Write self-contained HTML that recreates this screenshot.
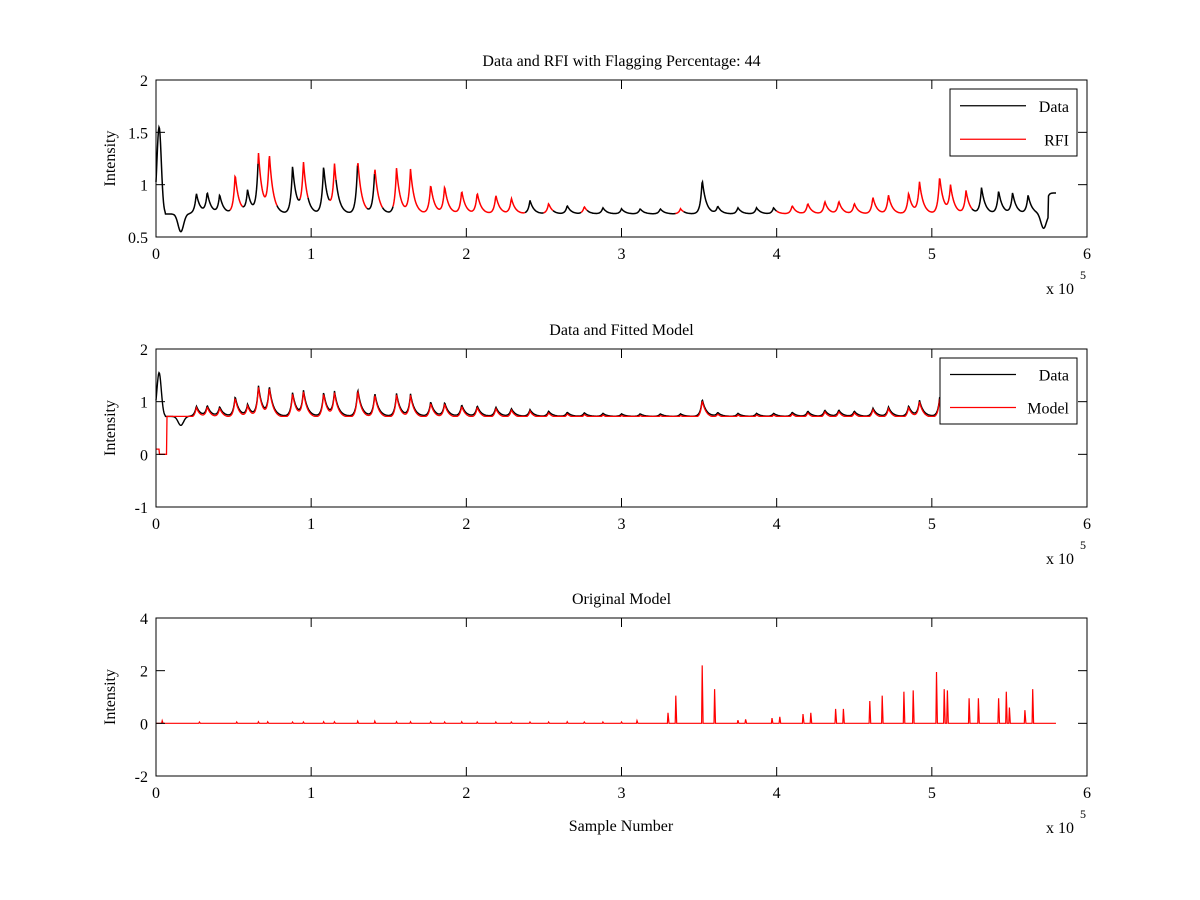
<!DOCTYPE html>
<html><head><meta charset="utf-8"><style>
body{margin:0;background:#fff}
svg{display:block;font-family:"Liberation Serif",serif}
</style></head><body>
<svg id="fig" width="1200" height="900"></svg>
<script>
// ---- data (x in units of 1e5 samples) ----
const peakPos = [0.02,0.26,0.33,0.41,0.51,0.59,0.66,0.73,0.88,0.95,1.08,1.15,1.30,1.41,1.55,1.64,1.77,1.86,1.97,2.07,2.19,2.29,2.41,2.53,2.65,2.76,2.88,3.00,3.12,3.25,3.38,3.52,3.62,3.75,3.87,3.98,4.10,4.20,4.31,4.40,4.50,4.62,4.72,4.85,4.92,5.05,5.12,5.22,5.32,5.43,5.52,5.62];
const peakHt  = [0.82,0.20,0.20,0.18,0.38,0.22,0.58,0.55,0.46,0.48,0.46,0.46,0.52,0.44,0.44,0.42,0.28,0.26,0.22,0.20,0.18,0.15,0.13,0.10,0.08,0.07,0.06,0.05,0.05,0.05,0.05,0.33,0.07,0.06,0.06,0.06,0.08,0.10,0.12,0.12,0.10,0.16,0.18,0.20,0.30,0.36,0.26,0.22,0.25,0.22,0.20,0.18];
const dipPos = [0.16,5.72];
const dipDepth = [0.17,0.14];
const redFlags = [[0.48,0.56],[0.66,0.78],[0.93,0.98],[1.12,1.16],[1.30,1.36],[1.41,1.46],[1.53,2.38],[2.50,2.56],[2.74,2.78],[3.35,3.40],[4.00,5.26]];
const modelPos = [0.04,0.28,0.52,0.66,0.72,0.88,0.95,1.08,1.15,1.30,1.41,1.55,1.64,1.77,1.86,1.97,2.07,2.19,2.29,2.41,2.53,2.65,2.76,2.88,3.00,3.10,3.30,3.35,3.52,3.60,3.75,3.80,3.97,4.02,4.17,4.22,4.38,4.43,4.60,4.68,4.82,4.88,5.03,5.08,5.10,5.24,5.30,5.43,5.48,5.50,5.60,5.65];
const modelHt  = [0.10,0.05,0.05,0.06,0.06,0.05,0.05,0.06,0.06,0.08,0.08,0.06,0.06,0.06,0.05,0.06,0.05,0.05,0.05,0.05,0.05,0.06,0.05,0.05,0.05,0.10,0.40,1.05,2.20,1.30,0.12,0.15,0.20,0.25,0.35,0.40,0.55,0.55,0.85,1.05,1.20,1.25,1.95,1.30,1.25,0.95,0.95,0.95,1.20,0.60,0.50,1.30];

function dataVal(x){
  let v=0.72;
  if(x<0.06) v=0.72+0.83*Math.exp(-Math.pow((x-0.02)/0.02,2));
  for(let i=1;i<peakPos.length;i++){const d=x-peakPos[i];
    if(d>=0) v+=peakHt[i]*Math.exp(-d/0.025); else v+=peakHt[i]*Math.exp(d/0.012);}
  for(let i=0;i<dipPos.length;i++) v-=dipDepth[i]*Math.exp(-Math.pow((x-dipPos[i])/0.025,2));
  if(x>5.75) v+=0.2;
  return v;
}
const isRed=x=>redFlags.some(r=>x>=r[0]&&x<=r[1]);
const NS="http://www.w3.org/2000/svg";
const svg=document.getElementById('fig');
function el(t,a,p){const e=document.createElementNS(NS,t);for(const k in a)e.setAttribute(k,a[k]);(p||svg).appendChild(e);return e;}
function axes(top,bot,ymin,ymax,yticks,title,name){
  const L=156,R=1087;
  const g=el('g',{});
  
  
  el('rect',{x:L,y:top,width:R-L,height:bot-top,fill:'#fff',stroke:'none'},g);
  const sx=x=>L+x/6*(R-L), sy=v=>bot-(v-ymin)/(ymax-ymin)*(bot-top);
  return {g,sx,sy,L,R,top,bot,ymin,ymax,yticks,title};
}
function frame(a){
  const {g,sx,sy,L,R,top,bot}=a;
  el('rect',{x:L,y:top,width:R-L,height:bot-top,fill:'none',stroke:'#000','stroke-width':1},g);
  for(let i=0;i<=6;i++){const x=sx(i);
    el('line',{x1:x,y1:bot,x2:x,y2:bot-9,stroke:'#000'},g);el('line',{x1:x,y1:top,x2:x,y2:top+9,stroke:'#000'},g);
    const t=el('text',{x:x,y:bot+22,'text-anchor':'middle','font-size':16},g);t.textContent=i;
    
    }
  a.yticks.forEach(v=>{const y=sy(v);
    el('line',{x1:L,y1:y,x2:L+9,y2:y,stroke:'#000'},g);el('line',{x1:R,y1:y,x2:R-9,y2:y,stroke:'#000'},g);
    const t=el('text',{x:L-8,y:y+6,'text-anchor':'end','font-size':16},g);t.textContent=v;
    
    });
  let t=el('text',{x:(L+R)/2,y:top-14,'text-anchor':'middle','font-size':16},g);t.textContent=a.title;
  
  
  t=el('text',{x:0,y:0,'text-anchor':'middle','font-size':16,transform:`translate(${L-41},${(top+bot)/2}) rotate(-90)`},g);t.textContent='Intensity';
  
  
  t=el('text',{x:1046,y:bot+57,'font-size':16},g);t.textContent='x 10';
  
  
  t=el('text',{x:1080,y:bot+42,'font-size':12},g);t.textContent='5';
}
function legend(a,x,y,w,h,items){
  const g=el('g',{},a.g);
  
  
  el('rect',{x,y,width:w,height:h,fill:'#fff',stroke:'#000'},g);
  items.forEach((it,i)=>{const yy=y+h/4+i*h/2;
    el('line',{x1:x+10,y1:yy,x2:x+76,y2:yy,stroke:it[1],'stroke-width':1.3},g);
    const t=el('text',{x:x+w-8,y:yy+6,'text-anchor':'end','font-size':16},g);t.textContent=it[0];
    
    });
}
const N=1800, xmax=5.8;
// Panel 1
let a=axes(80,237,0.5,2,[0.5,1,1.5,2],'Data and RFI with Flagging Percentage: 44','rfi-panel');
let segs={black:'',red:''},prev=null,prevC=null;
for(let i=0;i<=N;i++){const x=i/N*xmax,c=isRed(x)?'red':'black';const p=a.sx(x).toFixed(1)+','+a.sy(dataVal(x)).toFixed(1);
  if(c!==prevC){segs[c]+=' M'+(prev||p);} segs[c]+=' L'+p; prev=p;prevC=c;}
let p=el('path',{d:segs.black,fill:'none',stroke:'#000','stroke-width':1.5},a.g);
p=el('path',{d:segs.red,fill:'none',stroke:'#f00','stroke-width':1.5},a.g);
frame(a);legend(a,950,89,127,67,[['Data','#000'],['RFI','#f00']]);
// Panel 2
a=axes(349,507,-1,2,[-1,0,1,2],'Data and Fitted Model','model-panel');
let db='',dm='';
for(let i=0;i<=N;i++){const x=i/N*xmax,v=dataVal(x);db+=(i?'L':'M')+a.sx(x).toFixed(1)+','+a.sy(v).toFixed(1);
  let m=x<0.02?0.1:(x<0.07?0:Math.max(0.72,v-0.03));
  if(x<=5.1) dm+=(i?'L':'M')+a.sx(x).toFixed(1)+','+a.sy(m).toFixed(1);}
p=el('path',{d:db,fill:'none',stroke:'#000','stroke-width':1.4},a.g);
p=el('path',{d:dm,fill:'none',stroke:'#f00','stroke-width':1.3},a.g);
frame(a);legend(a,940,358,137,66,[['Data','#000'],['Model','#f00']]);
// Panel 3
a=axes(618,776,-2,4,[-2,0,2,4],'Original Model','original-model-panel');
let d3='M'+a.sx(0)+','+a.sy(0);
const sorted=modelPos.map((x,i)=>[x,modelHt[i]]).sort((u,v)=>u[0]-v[0]);
sorted.forEach(([x,h])=>{d3+=`L${a.sx(x-0.004).toFixed(1)},${a.sy(0)}L${a.sx(x).toFixed(1)},${a.sy(h).toFixed(1)}L${a.sx(x+0.006).toFixed(1)},${a.sy(0)}`;});
d3+='L'+a.sx(xmax)+','+a.sy(0);
p=el('path',{d:d3,fill:'none',stroke:'#f00','stroke-width':1.2},a.g);
frame(a);
let t=el('text',{x:621,y:831,'text-anchor':'middle','font-size':16});t.textContent='Sample Number';


</script>
</body></html>
